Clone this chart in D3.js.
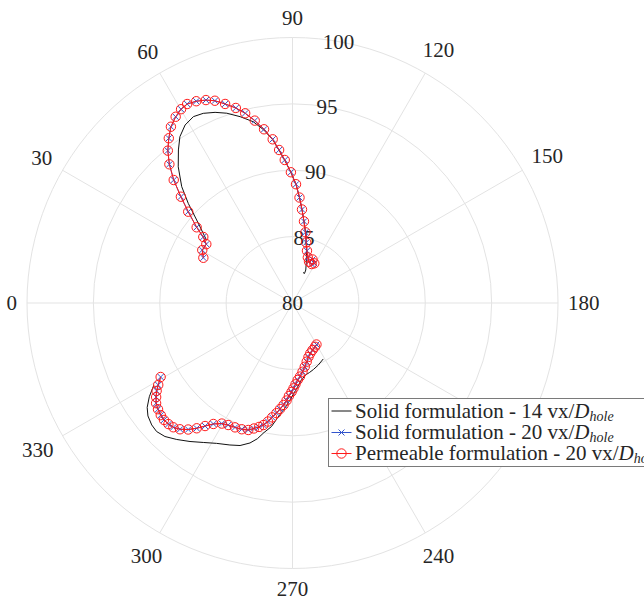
<!DOCTYPE html>
<html>
<head>
<meta charset="utf-8">
<script src="https://cdn.jsdelivr.net/npm/d3@7"></script>
<style>
body { margin: 0; background: #fff; }
</style>
</head>
<body>
<svg id="chart" width="644" height="599" font-family="Liberation Serif"></svg>
<script>
// angles in degrees (0 = left, 90 = top, going clockwise), radial values from 80 to 100

// 20 vx/D_hole, upper branch (solid and permeable sit on top of each other)
var upperTheta20 = [26.9, 30.4, 34.3, 36.5, 38.3, 41.2, 43.6, 46.0, 48.4, 50.7, 53.1, 55.4, 57.9,
    60.1, 62.1, 64.5, 66.9, 69.0, 71.3, 73.8, 76.0, 78.3, 80.7, 83.1, 85.0, 86.9, 89.3, 91.7,
    93.8, 95.8, 98.0, 100.4, 102.8, 105.5, 108.6, 111.8, 116.2, 118.8, 114.7];
var perm20UpperR = [87.53, 87.88, 87.86, 88.36, 89.20, 90.44, 91.61, 92.88, 93.97, 94.83, 95.52,
    96.13, 96.56, 96.84, 96.96, 96.84, 96.62, 96.32, 95.83, 95.30, 94.73, 94.03, 93.26, 92.42,
    91.57, 90.79, 89.85, 88.95, 87.96, 87.08, 86.21, 85.42, 84.67, 84.08, 83.62, 83.35, 83.27,
    83.41, 83.61];
var solid20UpperR = [87.53, 87.88, 87.86, 88.36, 89.20, 90.44, 91.61, 92.88, 93.97, 94.83, 95.52,
    96.13, 96.56, 96.84, 96.96, 96.84, 96.62, 96.32, 95.83, 95.30, 94.73, 94.03, 93.26, 92.42,
    91.57, 90.79, 89.85, 88.95, 87.96, 87.08, 86.21, 85.42, 84.67, 84.08, 83.62, 83.35, 83.27,
    83.41, 83.61];

// 20 vx/D_hole, lower branch
var lowerTheta20 = [330.7, 328.6, 327.1, 325.4, 323.7, 321.7, 319.6, 317.7, 315.7, 313.8, 311.7,
    309.5, 307.4, 305.4, 303.2, 300.4, 297.8, 294.8, 291.9, 289.2, 287.1, 285.1, 283.4, 281.7,
    280.1, 278.3, 276.7, 275.0, 273.5, 272.2, 270.6, 269.3, 267.9, 266.1, 264.2, 261.7, 259.1,
    256.4, 253.5, 250.5, 246.9, 242.8, 240.0];
var perm20LowerR = [91.39, 91.85, 92.19, 92.48, 92.75, 92.91, 93.03, 93.09, 93.06, 92.97, 92.74,
    92.35, 91.88, 91.37, 90.89, 90.53, 90.39, 90.32, 90.25, 90.13, 89.89, 89.67, 89.45, 89.12,
    88.75, 88.38, 88.04, 87.71, 87.36, 87.01, 86.70, 86.43, 86.13, 85.81, 85.57, 85.23, 84.89,
    84.55, 84.24, 84.02, 83.85, 83.71, 83.61];
var solid20LowerR = [91.39, 91.85, 92.19, 92.48, 92.75, 92.91, 93.03, 93.09, 93.06, 92.97, 92.74,
    92.35, 91.88, 91.37, 90.89, 90.53, 90.39, 90.32, 90.25, 90.13, 89.89, 89.67, 89.45, 89.12,
    88.75, 88.38, 88.04, 87.71, 87.36, 87.01, 86.70, 86.43, 86.13, 85.81, 85.57, 85.23, 84.89,
    84.55, 84.24, 84.02, 83.85, 83.71, 83.61];

// 14 vx/D_hole (solid), plain line
var upperTheta14 = [36.2, 40.9, 43.7, 46.4, 50.0, 53.3, 55.9, 58.9, 62.0, 64.8, 67.9, 70.9, 74.3,
    77.8, 80.6, 83.1, 85.0, 86.9, 89.3, 91.7, 93.8, 95.8, 98.0, 100.4, 102.8, 105.4, 108.6,
    111.9, 112.1, 109.0];
var solid14UpperR = [88.03, 89.55, 90.86, 92.10, 93.39, 94.38, 95.13, 95.66, 95.90, 95.79, 95.50,
    95.13, 94.58, 93.97, 93.21, 92.38, 91.53, 90.75, 89.84, 88.93, 87.96, 87.08, 86.21, 85.42,
    84.67, 83.98, 83.26, 82.68, 82.40, 82.43];
var lowerTheta14 = [329.4, 326.8, 324.3, 322.0, 319.1, 316.6, 313.7, 310.3, 306.5, 302.6, 298.4,
    293.8, 290.2, 286.9, 284.5, 282.4, 279.7, 277.6, 275.7, 273.6, 271.5, 269.0, 266.6, 263.7,
    259.8, 256.3, 252.5, 247.4, 241.2];
var solid14LowerR = [92.13, 92.89, 93.48, 93.82, 94.03, 94.09, 93.91, 93.48, 92.98, 92.47, 92.02,
    91.69, 91.44, 91.02, 90.56, 89.99, 89.45, 88.78, 88.29, 87.81, 87.31, 86.78, 86.34, 85.87,
    85.51, 85.39, 85.25, 85.06, 84.81];

// the 210 label sits under the legend in the original, so it is left out
var thetaTicks = [0, 30, 60, 90, 120, 150, 180, 210, 240, 270, 300, 330];
var thetaLabels = [0, 30, 60, 90, 120, 150, 180, 240, 270, 300, 330];
var rTicks = [80, 85, 90, 95, 100];
var legendLabels = [
    ["Solid formulation - 14 vx/", "D", "hole"],
    ["Solid formulation - 20 vx/", "D", "hole"],
    ["Permeable formulation - 20 vx/", "D", "hole"]
];

var cx = 292.5, cy = 303, outer = 265.5;
var fontSize = 21;
var gridColor = "#e3e3e3", redColor = "#ff1a1a", blueColor = "#3355cc", textColor = "#262626";

var svg = d3.select("#chart");
var g = svg.append("g").attr("transform", "translate(" + cx + "," + cy + ")");

var rScale = d3.scaleLinear().domain([80, 100]).range([0, outer]);
// d3 radial angle: 0 at top, clockwise; our 0 sits at the left
var aScale = d3.scaleLinear().domain([0, 360]).range([-Math.PI / 2, 1.5 * Math.PI]);

function px(t, v) { return rScale(v) * Math.sin(aScale(t)); }
function py(t, v) { return -rScale(v) * Math.cos(aScale(t)); }

function zipSeries(thetas, values) {
    return thetas.map(function (t, i) { return { t: t, v: values[i] }; });
}

// angle labels sit just outside the rim; digits are half an em wide
function labelPos(d) {
    var a = aScale(d);
    var sx = Math.sin(a), sy = -Math.cos(a);
    var w = String(d).length * fontSize * 0.5;
    var rr = outer + 10 + Math.abs(sx) * w / 2 + Math.abs(sy) * 10;
    return [sx * rr, sy * rr];
}

/* GRID */
g.selectAll(".ring").data(rTicks.filter(function (d) { return d > 80; })).enter()
    .append("circle").attr("class", "ring")
    .attr("r", function (d) { return rScale(d); })
    .attr("fill", "none").attr("stroke", gridColor).attr("stroke-width", 1);

g.selectAll(".spoke").data(thetaTicks).enter()
    .append("line").attr("class", "spoke")
    .attr("x1", 0).attr("y1", 0)
    .attr("x2", function (d) { return px(d, 100); })
    .attr("y2", function (d) { return py(d, 100); })
    .attr("stroke", gridColor).attr("stroke-width", 1);

/* ANGLE LABELS */
g.selectAll(".tlabel").data(thetaLabels).enter()
    .append("text").attr("class", "tlabel")
    .attr("x", function (d) { return labelPos(d)[0]; })
    .attr("y", function (d) { return labelPos(d)[1] + 7; })
    .attr("font-size", fontSize)
    .attr("font-family", "Liberation Serif")
    .attr("fill", textColor)
    .attr("text-anchor", "middle")
    .text(function (d) { return d; });

/* RADIAL LABELS */
g.selectAll(".rlabel").data(rTicks).enter()
    .append("text").attr("class", "rlabel")
    .attr("x", function (d) { return px(100, d); })
    .attr("y", function (d) { return py(100, d) + 7; })
    .attr("font-size", fontSize)
    .attr("font-family", "Liberation Serif")
    .attr("fill", textColor)
    .attr("text-anchor", "middle")
    .text(function (d) { return d; });

/* DATA */
var radial = d3.lineRadial()
    .angle(function (d) { return aScale(d.t); })
    .radius(function (d) { return rScale(d.v); });

var coarse = [zipSeries(upperTheta14, solid14UpperR), zipSeries(lowerTheta14, solid14LowerR)];
var solid20 = [zipSeries(upperTheta20, solid20UpperR), zipSeries(lowerTheta20, solid20LowerR)];
var perm20 = [zipSeries(upperTheta20, perm20UpperR), zipSeries(lowerTheta20, perm20LowerR)];

g.selectAll(".coarse").data(coarse).enter()
    .append("path").attr("class", "coarse")
    .attr("d", radial).attr("fill", "none")
    .attr("stroke", "#111").attr("stroke-width", 1);

g.selectAll(".solid20").data(solid20).enter()
    .append("path").attr("class", "solid20")
    .attr("d", radial).attr("fill", "none")
    .attr("stroke", blueColor).attr("stroke-width", 1);

function crossPath(x, y, s) {
    return "M" + (x - s) + "," + (y - s) + "L" + (x + s) + "," + (y + s) +
        "M" + (x - s) + "," + (y + s) + "L" + (x + s) + "," + (y - s);
}

g.selectAll(".xmark").data(solid20[0].concat(solid20[1])).enter()
    .append("path").attr("class", "xmark")
    .attr("d", function (d) { return crossPath(px(d.t, d.v), py(d.t, d.v), 3); })
    .attr("stroke", blueColor).attr("stroke-width", 1).attr("fill", "none");

g.selectAll(".perm20").data(perm20).enter()
    .append("path").attr("class", "perm20")
    .attr("d", radial).attr("fill", "none")
    .attr("stroke", redColor).attr("stroke-width", 1);

g.selectAll(".omark").data(perm20[0].concat(perm20[1])).enter()
    .append("circle").attr("class", "omark")
    .attr("cx", function (d) { return px(d.t, d.v); })
    .attr("cy", function (d) { return py(d.t, d.v); })
    .attr("r", 4.7)
    .attr("fill", "none").attr("stroke", redColor).attr("stroke-width", 1);

/* LEGEND */
var leg = svg.append("g").attr("transform", "translate(328.5,398.5)");
leg.append("rect").attr("width", 340).attr("height", 68)
    .attr("fill", "#fff").attr("stroke", "#7a7a7a").attr("stroke-width", 1);

var rowY = [12.5, 34, 55];
var rowColors = ["#111", blueColor, redColor];
legendLabels.forEach(function (lab, i) {
    var y = rowY[i];
    leg.append("line").attr("x1", 3).attr("x2", 23).attr("y1", y).attr("y2", y)
        .attr("stroke", rowColors[i]).attr("stroke-width", 1);
    if (i === 1) {
        leg.append("path").attr("d", crossPath(13, y, 3))
            .attr("stroke", blueColor).attr("stroke-width", 1);
    }
    if (i === 2) {
        leg.append("circle").attr("cx", 13).attr("cy", y).attr("r", 4.7)
            .attr("fill", "none").attr("stroke", redColor).attr("stroke-width", 1);
    }
    var t = leg.append("text").attr("x", 26.5).attr("y", y + 6.5)
        .attr("font-size", fontSize)
        .attr("font-family", "Liberation Serif")
        .attr("fill", textColor);
    t.append("tspan").text(lab[0]);
    t.append("tspan").attr("font-style", "italic").text(lab[1]);
    t.append("tspan").attr("font-style", "italic").attr("font-size", 14)
        .attr("dy", 3).text(lab[2]);
});
</script>
</body>
</html>
